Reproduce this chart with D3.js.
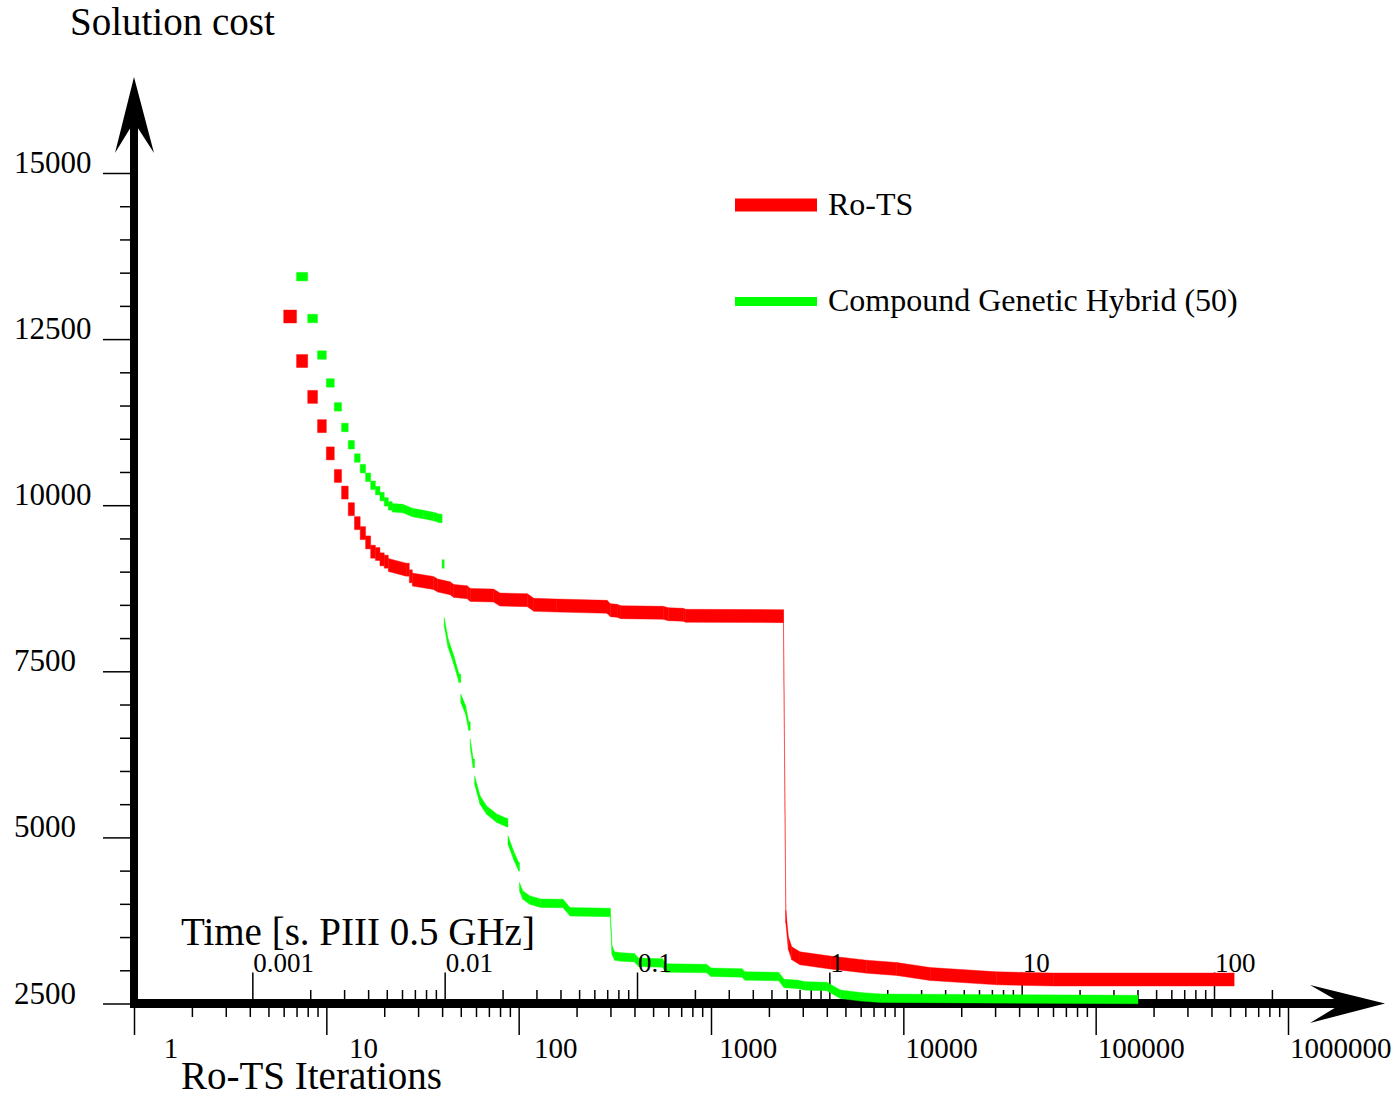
<!DOCTYPE html>
<html>
<head>
<meta charset="utf-8">
<script src="https://cdn.jsdelivr.net/npm/d3@7"></script>
<style>
body { margin: 0; background: #fff; }
text { font-family: "Liberation Serif", "Times New Roman", serif; fill: #000; }
</style>
</head>
<body>
<div id="chart-area"></div>
<script>
// iteration / cost knots
var redIter = [6, 7, 8, 9, 10, 11, 12, 13, 14, 15, 16, 17, 18, 19, 20, 21,
    26, 27, 28, 36, 38, 44, 46, 54, 56, 74, 80, 111, 120, 158, 288, 300, 325, 340, 564, 600, 716, 740, 2380,
    2450, 2526, 2630, 2900, 4160, 6460, 9250, 13780, 30600, 60100, 525000];
var redCost = [12840, 12170, 11630, 11190, 10780, 10440, 10190, 9940, 9730, 9580, 9440, 9300, 9265, 9185, 9150, 9100,
    9030, 8930, 8880, 8830, 8790, 8750, 8710, 8690, 8650, 8640, 8580, 8570, 8500, 8490, 8470, 8420, 8410, 8390, 8380, 8360, 8350, 8335, 8330,
    3806, 3406, 3255, 3180, 3117, 3054, 3019, 2944, 2879, 2861, 2861];

var greenIter = [7, 8, 9, 10, 11, 12, 13, 14, 15, 16, 17, 18, 19, 20, 21, 22,
    25, 28, 32, 36, 39, 40, 41, 43, 46, 49, 50, 53, 55, 56, 58, 59, 63, 68, 77, 87,
    88, 94, 100, 101, 105, 114, 130, 170, 185, 299, 306, 315, 340, 400, 420,
    560, 580, 950, 1000, 1450, 1500, 2250, 2400, 2800, 3100, 4000, 4700, 6000, 7600, 166000];
var greenCost = [13440, 12810, 12260, 11840, 11480, 11170, 10910, 10710, 10550, 10420, 10300, 10220, 10130, 10050, 9990, 9960,
    9950, 9890, 9860, 9830, 9800, 9115, 8246, 7921, 7670, 7394, 7093, 6917, 6676, 6420, 6115, 5864, 5563, 5412, 5287, 5221,
    4961, 4735, 4559, 4258, 4133, 4058, 4010, 4005, 3880, 3870, 3300, 3215, 3200, 3190, 3120,
    3110, 3035, 3025, 2970, 2960, 2915, 2905, 2800, 2790, 2765, 2755, 2640, 2600, 2580, 2560];

var seriesNames = ["Ro-TS", "Compound Genetic Hybrid (50)"];
var costTicks = [2500, 5000, 7500, 10000, 12500, 15000];
var iterTicks = [1, 10, 100, 1000, 10000, 100000, 1000000];
var timeTicks = [0.001, 0.01, 0.1, 1, 10, 100];
var secPerIter = 2.425e-4;

var svg = d3.select("#chart-area").append("svg")
    .attr("width", 1396)
    .attr("height", 1102);

var x = d3.scaleLog().domain([1, 1e6]).range([134, 1288]);
var t = d3.scaleLog().domain([secPerIter, 1e6 * secPerIter]).range([134, 1288]);
var y = d3.scaleLinear().domain([2500, 15000]).range([1003.5, 173]);

// minor tick values
var costMinor = d3.range(3000, 15000, 500).filter(v => v % 2500 != 0);
var iterMinor = [];
iterTicks.slice(0, -1).forEach(d => { for (var k = 2; k < 10; k++) iterMinor.push(d * k); });
var timeMinor = [];
timeTicks.forEach(d => { for (var k = 2; k < 10; k++) if (d * k <= 200) timeMinor.push(d * k); });

function styleTicks(g) {
    g.select(".domain").remove();
    g.selectAll("line").attr("stroke", "#000").attr("stroke-width", 1.5);
}

// y ticks
svg.append("g").attr("transform", "translate(130,0)")
    .call(d3.axisLeft(y).tickValues(costTicks).tickSize(27).tickFormat(""))
    .call(styleTicks);
svg.append("g").attr("transform", "translate(130,0)")
    .call(d3.axisLeft(y).tickValues(costMinor).tickSize(10).tickFormat(""))
    .call(styleTicks);

// bottom iteration ticks
svg.append("g").attr("transform", "translate(0,1008)")
    .call(d3.axisBottom(x).tickValues(iterTicks).tickSize(27).tickFormat(""))
    .call(styleTicks);
svg.append("g").attr("transform", "translate(0,1008)")
    .call(d3.axisBottom(x).tickValues(iterMinor).tickSize(9).tickFormat(""))
    .call(styleTicks);

// time ticks on top of x axis
svg.append("g").attr("transform", "translate(0,999)")
    .call(d3.axisTop(t).tickValues(timeTicks).tickSize(26.5).tickFormat(""))
    .call(styleTicks);
svg.append("g").attr("transform", "translate(0,999)")
    .call(d3.axisTop(t).tickValues(timeMinor).tickSize(9).tickFormat(""))
    .call(styleTicks);

// thick axes with arrows
svg.append("line").attr("x1", 134).attr("x2", 134).attr("y1", 1008).attr("y2", 120)
    .attr("stroke", "#000").attr("stroke-width", 8);
svg.append("line").attr("x1", 130).attr("x2", 1345).attr("y1", 1003.5).attr("y2", 1003.5)
    .attr("stroke", "#000").attr("stroke-width", 9);
svg.append("path").attr("d", "M134,77L154,153L134,122L115,153Z").attr("fill", "#000");
svg.append("path").attr("d", "M1385,1003.5L1310,985L1342,1003.5L1310,1023Z").attr("fill", "#000");

// each knot holds its cost until the next one; consecutive iterations are steps,
// sparser knots are joined by a straight band
function bandPieces(iters, costs, h) {
    var pieces = [];
    for (var i = 0; i < iters.length - 1; i++) {
        var x0 = x(iters[i]), x1 = x(iters[i + 1]);
        var y0 = y(costs[i]);
        var y1 = (iters[i + 1] - iters[i] == 1) ? y0 : y(costs[i + 1]);
        pieces.push([[x0, y0 - h / 2], [x1, y1 - h / 2], [x1, y1 + h / 2], [x0, y0 + h / 2]]);
    }
    return pieces;
}

var series = [
    { name: seriesNames[1], iters: greenIter, costs: greenCost, color: "#00ff00", h: 8.5 },
    { name: seriesNames[0], iters: redIter, costs: redCost, color: "#ff0000", h: 13 }
];

series.forEach(s => {
    svg.append("g").selectAll("path")
        .data(bandPieces(s.iters, s.costs, s.h))
        .enter()
        .append("path")
        .attr("d", d => "M" + d.join("L") + "Z")
        .attr("fill", s.color)
        .attr("stroke", s.color)
        .attr("stroke-width", 0.4);
});

// y labels
svg.selectAll(".ylab").data(costTicks).enter().append("text")
    .attr("x", 14).attr("y", d => y(d))
    .style("font-size", "31px")
    .text(d => d);

// iteration labels
svg.selectAll(".xlab").data(iterTicks).enter().append("text")
    .attr("x", d => Math.max(x(d) + 2, x(d) + 37 - String(d).length * 7.2))
    .attr("y", 1058)
    .style("font-size", "29px")
    .text(d => d3.format("d")(d));

// time labels (drawn over the curves)
svg.selectAll(".tlab").data(timeTicks).enter().append("text")
    .attr("x", d => t(d) + 1)
    .attr("y", 971.5)
    .style("font-size", "27px")
    .text(d => String(d));

// axis titles
svg.append("text").attr("x", 70).attr("y", 35).style("font-size", "39px").text("Solution cost");
svg.append("text").attr("x", 181).attr("y", 945).style("font-size", "39px").text("Time [s. PIII 0.5 GHz]");
svg.append("text").attr("x", 181).attr("y", 1089).style("font-size", "39px").text("Ro-TS Iterations");

// legend
var legend = [
    { name: seriesNames[0], color: "#ff0000", h: 13, y: 205 },
    { name: seriesNames[1], color: "#00ff00", h: 9, y: 301.5 }
];
legend.forEach(l => {
    svg.append("line").attr("x1", 735).attr("x2", 817).attr("y1", l.y).attr("y2", l.y)
        .attr("stroke", l.color).attr("stroke-width", l.h);
    svg.append("text").attr("x", 828).attr("y", l.y + 9.5).style("font-size", "32px").text(l.name);
});
</script>
</body>
</html>
